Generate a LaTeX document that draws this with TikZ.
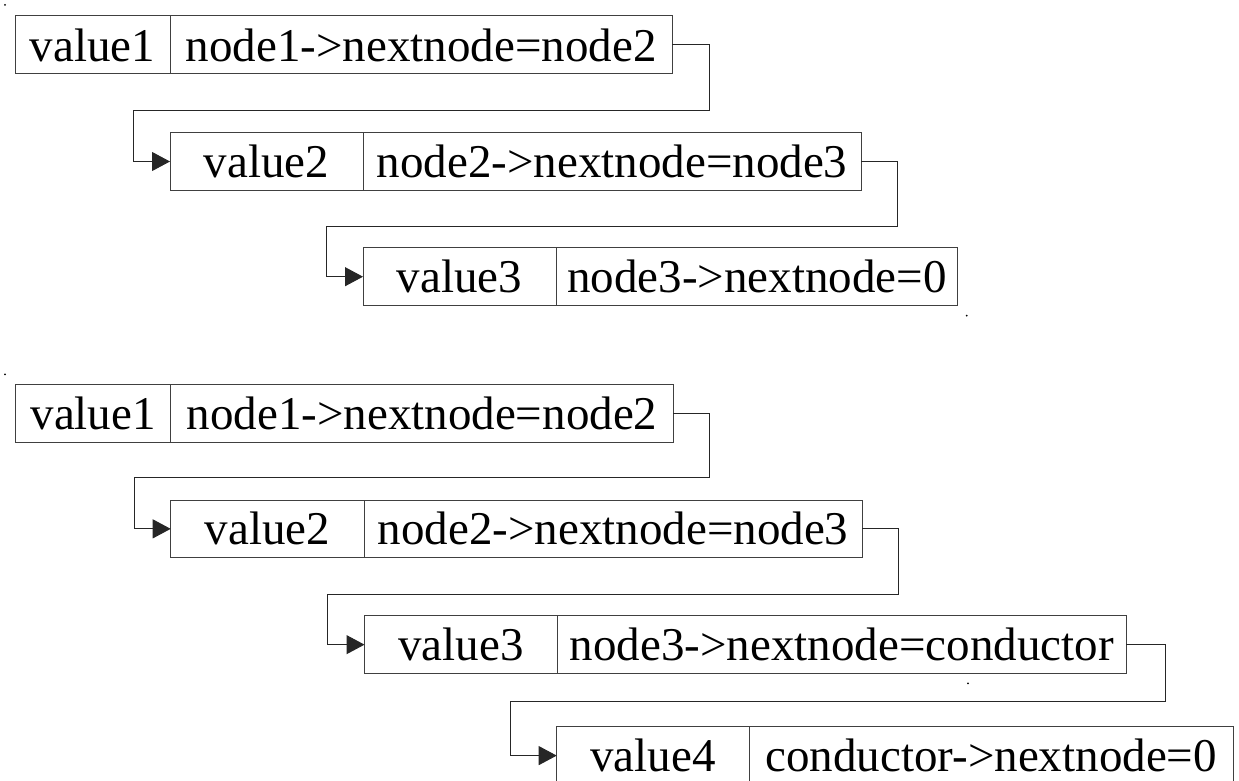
\documentclass[tikz,border=0pt]{standalone}
\usepackage{fontspec}
\setmainfont{Liberation Serif}
\newfontfamily\timesfont{Liberation Serif}
\usetikzlibrary{arrows.meta}
\newcommand\cellbox[6]{\node[cell,minimum width={(#3-#2)*1pt},minimum height={(#5-#4)*1pt}] (#1) at ({(#2+#3)/2},{(#4+#5)/2}) {#6};}
\begin{document}
\begin{tikzpicture}[x=1pt,y=-1pt,
  cell/.style={draw=black!75, line width=1pt, rectangle, inner sep=0pt, outer sep=0pt, font=\timesfont\fontsize{47}{50}\selectfont},
  link/.style={draw=black!85, line width=1pt, -{Triangle[length=18pt,width=19pt]}},
  speck/.style={fill=black, circle, inner sep=0pt, minimum size=2pt}]
\useasboundingbox (0,0) rectangle (1239,781);
% top list
\cellbox{v1}{15}{170}{16}{74}{value1}
\cellbox{p1}{170}{672.3}{16}{74}{node1->nextnode=node2}
\cellbox{v2}{170}{363}{132.5}{190.5}{value2}
\cellbox{p2}{363}{861}{132.5}{190.5}{node2->nextnode=node3}
\cellbox{v3}{363}{556}{247.7}{305.7}{value3}
\cellbox{p3}{556}{957.7}{247.7}{305.7}{node3->nextnode=0}
\coordinate (a1) at (709,110.5);
\coordinate (b1) at (133.5,110.5);
\coordinate (a2) at (897.3,226);
\coordinate (b2) at (326.7,226);
\draw[link] (p1.east) -| (a1) -- (b1) |- (v2.west);
\draw[link] (p2.east) -| (a2) -- (b2) |- (v3.west);
% bottom list
\cellbox{w1}{15.7}{170.7}{384}{442}{value1}
\cellbox{q1}{170.7}{673.3}{384}{442}{node1->nextnode=node2}
\cellbox{w2}{170.7}{364}{500}{557.7}{value2}
\cellbox{q2}{364}{862}{500}{557.7}{node2->nextnode=node3}
\cellbox{w3}{364.5}{557.3}{615.8}{673.5}{value3}
\cellbox{q3}{557.3}{1126.3}{615.8}{673.5}{node3->nextnode=conductor}
\cellbox{w4}{556.7}{749.3}{726.7}{784.5}{value4}
\cellbox{q4}{749.3}{1233}{726.7}{784.5}{conductor->nextnode=0}
\coordinate (c1) at (709.3,477.7);
\coordinate (d1) at (134.3,477.7);
\coordinate (c2) at (898.3,594);
\coordinate (d2) at (327.5,594);
\coordinate (c3) at (1165,701.2);
\coordinate (d3) at (510.7,701.2);
\draw[link] (q1.east) -| (c1) -- (d1) |- (w2.west);
\draw[link] (q2.east) -| (c2) -- (d2) |- (w3.west);
\draw[link] (q3.east) -| (c3) -- (d3) |- (w4.west);
% stray dots
\node[speck] (s1) at (5,5) {};
\node[speck] (s2) at (966.7,315.7) {};
\node[speck] (s3) at (5,374.3) {};
\node[speck] (s4) at (968,683.3) {};
\end{tikzpicture}
\end{document}
